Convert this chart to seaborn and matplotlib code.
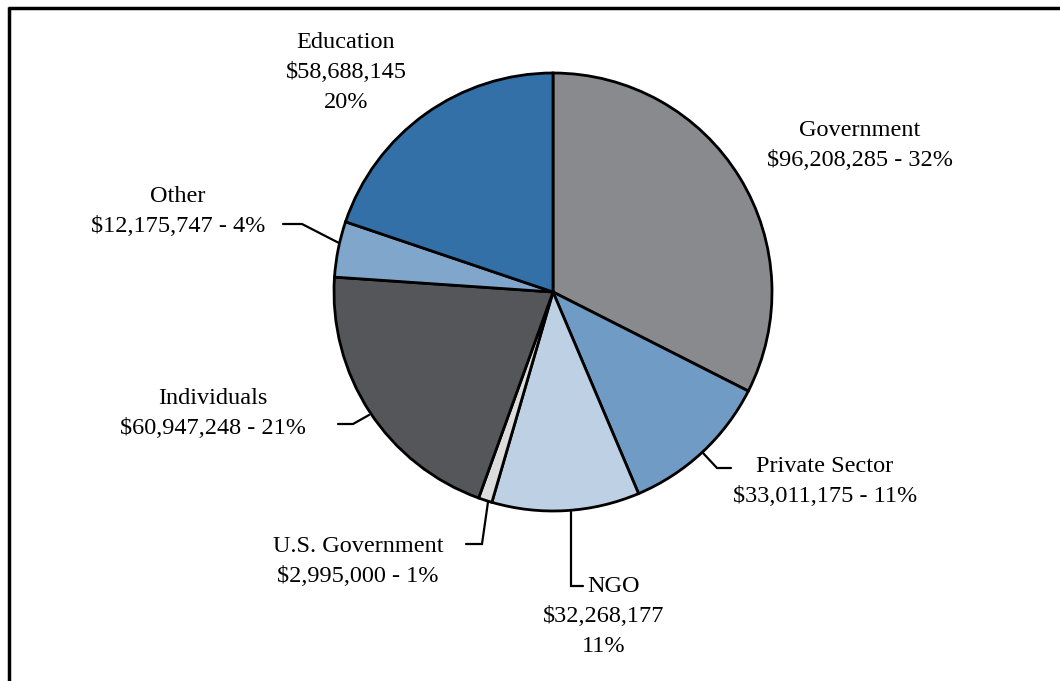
import matplotlib
matplotlib.use("Agg")
import matplotlib.pyplot as plt
import seaborn as sns
from matplotlib.lines import Line2D

sns.set_theme(style="white")
plt.rcParams['font.family'] = ['Liberation Serif', 'DejaVu Serif']

categories = ["Government", "Private Sector", "NGO", "U.S. Government",
              "Individuals", "Other", "Education"]
amounts = [96208285, 33011175, 32268177, 2995000, 60947248, 12175747, 58688145]
percent_labels = ["32%", "11%", "11%", "1%", "21%", "4%", "20%"]
colors = ["#898a8d", "#6f9bc4", "#bed0e3", "#dcdcdc", "#545659", "#80a6cb", "#3470a8"]

W, H = 1060, 681
fig = plt.figure(figsize=(W / 100, H / 100), dpi=100)
ax = fig.add_axes([0, 0, 1, 1])

def Y(yp):
    return H - yp

cx, cy, r = 553, 292, 219
ax.pie(amounts, colors=colors, startangle=90, counterclock=False,
       center=(cx, Y(cy)), radius=r, frame=True,
       wedgeprops=dict(edgecolor="black", linewidth=2.0))
ax.set_xlim(0, W)
ax.set_ylim(0, H)
ax.set_aspect("equal")
ax.axis("off")

def fmt(v):
    return "${:,}".format(v)

fs = 17.5
texts = {
    "Government": [(860, 130, "Government"), (860, 160, f"{fmt(amounts[0])} - {percent_labels[0]}")],
    "Private Sector": [(825, 466, "Private Sector"), (825, 496, f"{fmt(amounts[1])} - {percent_labels[1]}")],
    "NGO": [(614, 587, "NGO"), (604, 617, fmt(amounts[2])), (604, 647, percent_labels[2])],
    "U.S. Government": [(358, 546, "U.S. Government"), (358, 576, f"{fmt(amounts[3])} - {percent_labels[3]}")],
    "Individuals": [(213, 399, "Individuals"), (213, 429, f"{fmt(amounts[4])} - {percent_labels[4]}")],
    "Other": [(178, 197, "Other"), (178, 227, f"{fmt(amounts[5])} - {percent_labels[5]}")],
    "Education": [(346, 43, "Education"), (346, 73, fmt(amounts[6])), (346, 103, percent_labels[6])],
}
for name, lines in texts.items():
    for x, yp, t in lines:
        ax.text(x, Y(yp), t, ha="center", va="center", fontsize=fs, color="black")

leaders = [
    [(703, 453), (717, 468), (731, 468)],
    [(571, 512), (571, 586), (583, 586)],
    [(488, 502), (482, 544), (466, 544)],
    [(369, 415), (353, 424), (338, 424)],
    [(339, 243), (302, 224), (283, 224)],
]
for pts in leaders:
    xs = [p[0] for p in pts]
    ys = [Y(p[1]) for p in pts]
    ax.plot(xs, ys, color="black", linewidth=1.6, solid_joinstyle="miter")

# frame lines (top and left)
fig.add_artist(Line2D([8 / W, 1], [1 - 7.5 / H, 1 - 7.5 / H], color="black", linewidth=2.5,
                      transform=fig.transFigure, solid_capstyle="butt"))
fig.add_artist(Line2D([8.5 / W, 8.5 / W], [0, 1 - 6.5 / H], color="black", linewidth=2.5,
                      transform=fig.transFigure, solid_capstyle="butt"))

fig.savefig("out.png", dpi=100, facecolor="white")
